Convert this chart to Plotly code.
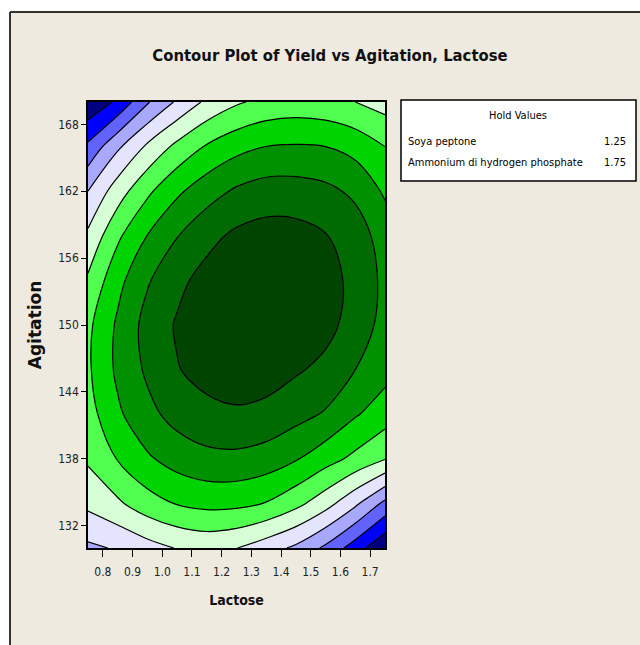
import plotly.graph_objects as go

# Data
lactose = [0.75, 0.85, 0.95, 1.05, 1.15, 1.25, 1.35, 1.45, 1.55, 1.65, 1.75]
agitation = [130, 134, 138, 142, 146, 150, 154, 158, 162, 166, 170]
# yield level estimates (rows = agitation, cols = lactose)
yield_z = [
    [3.80, 4.10, 4.60, 5.05, 5.25, 5.02, 4.45, 3.80, 2.80, 1.50, 0.10],
    [5.25, 5.84, 6.58, 7.06, 7.28, 7.25, 6.96, 6.30, 5.40, 4.20, 2.75],
    [6.15, 7.05, 7.86, 8.42, 8.72, 8.76, 8.55, 8.08, 7.40, 6.75, 6.05],
    [6.60, 7.83, 8.72, 9.36, 9.73, 9.86, 9.72, 9.33, 8.90, 8.10, 7.47],
    [6.85, 8.20, 9.17, 9.95, 10.34, 10.53, 10.45, 10.12, 9.75, 9.00, 8.35],
    [6.78, 8.16, 9.35, 10.10, 10.55, 10.85, 10.85, 10.65, 10.30, 9.60, 8.65],
    [6.15, 7.70, 8.90, 9.75, 10.35, 10.70, 10.80, 10.65, 10.35, 9.75, 8.75],
    [5.20, 6.82, 8.02, 8.96, 9.70, 10.20, 10.40, 10.35, 10.05, 9.50, 8.55],
    [4.00, 5.53, 6.80, 7.82, 8.58, 9.15, 9.45, 9.45, 9.25, 8.80, 7.85],
    [2.21, 3.82, 5.17, 6.26, 7.10, 7.68, 8.01, 8.08, 8.00, 7.65, 7.00],
    [0.20, 1.20, 2.90, 4.15, 5.21, 5.87, 6.27, 6.42, 6.31, 6.00, 5.60],
]
x_ticks = [0.8, 0.9, 1.0, 1.1, 1.2, 1.3, 1.4, 1.5, 1.6, 1.7]
x_ticktext = ["0.8", "0.9", "1.0", "1.1", "1.2", "1.3", "1.4", "1.5", "1.6", "1.7"]
y_ticks = [132, 138, 144, 150, 156, 162, 168]
hold_names = ["Soya peptone", "Ammonium di hydrogen phosphate"]
hold_values = ["1.25", "1.75"]

band_colors = ["#000080", "#0000FF", "#6262FF", "#A8A8FF", "#E4E4FF", "#D6FFD6",
               "#50FF50", "#00D400", "#009100", "#006B00", "#004400"]
colorscale = [[i / 10, c] for i, c in enumerate(band_colors)]

BG = "#EEEAE0"
FONT = "Liberation Sans Narrow, Arial Narrow, DejaVu Sans Condensed, sans-serif"

fig = go.Figure(go.Contour(
    x=lactose, y=agitation, z=yield_z,
    autocontour=False,
    contours=dict(start=1, end=10, size=1, coloring="fill"),
    colorscale=colorscale, showscale=False,
    line=dict(color="black", width=1.2, smoothing=1.0),
    hoverinfo="skip",
))

W, H = 640, 645
L, R, T, B = 88, 385, 102, 548
def px(xp): return (xp - L) / (R - L)   # page pixels -> paper fraction
def py(yp): return (B - yp) / (B - T)

shapes = [
    dict(type="rect", xref="paper", yref="paper", x0=px(-5), x1=px(700), y0=py(-5), y1=py(11),
         fillcolor="white", line=dict(width=0), layer="above"),
    dict(type="rect", xref="paper", yref="paper", x0=px(-5), x1=px(9), y0=py(-5), y1=py(700),
         fillcolor="white", line=dict(width=0), layer="above"),
    dict(type="line", xref="paper", yref="paper", x0=px(10), x1=px(700), y0=py(12), y1=py(12),
         line=dict(color="#333333", width=2)),
    dict(type="line", xref="paper", yref="paper", x0=px(10), x1=px(10), y0=py(12), y1=py(700),
         line=dict(color="#333333", width=2)),
    # hold values box
    dict(type="rect", xref="paper", yref="paper", x0=px(401), x1=px(636), y0=py(181), y1=py(100),
         fillcolor="white", line=dict(color="black", width=1.5)),
]

annotations = [
    dict(text="Hold Values", xref="paper", yref="paper", x=px(518), y=py(116),
         showarrow=False, xanchor="center", yanchor="middle",
         font=dict(family=FONT, size=11, color="black")),
]
for name, val, yy in zip(hold_names, hold_values, [141, 163]):
    annotations.append(dict(text=name, xref="paper", yref="paper", x=px(406), y=py(yy),
                            showarrow=False, xanchor="left", yanchor="middle",
                            font=dict(family=FONT, size=11, color="black")))
    annotations.append(dict(text=val, xref="paper", yref="paper", x=px(628), y=py(yy),
                            showarrow=False, xanchor="right", yanchor="middle",
                            font=dict(family=FONT, size=11, color="black")))

fig.update_layout(
    width=W, height=H,
    margin=dict(l=L, r=W - R, t=T, b=H - B),
    paper_bgcolor=BG, plot_bgcolor=BG,
    title=dict(text="<b>Contour Plot of Yield vs Agitation, Lactose</b>",
               xref="container", yref="container", x=330 / W, y=1 - 55 / H,
               xanchor="center", yanchor="middle",
               font=dict(family=FONT, size=16.5, color="#111111")),
    xaxis=dict(range=[0.75, 1.75], tickvals=x_ticks, ticktext=x_ticktext,
               ticks="outside", ticklen=7, tickcolor="black", tickwidth=1,
               ticklabelstandoff=5,
               showline=True, linecolor="black", linewidth=1.5, mirror=True,
               showgrid=False, zeroline=False,
               tickfont=dict(family=FONT, size=12, color="#222222"),
               title=dict(text="<b>Lactose</b>", standoff=17,
                          font=dict(family=FONT, size=14, color="#111111"))),
    yaxis=dict(range=[130, 170], tickvals=y_ticks,
               ticks="outside", ticklen=5, tickcolor="black", tickwidth=1,
               showline=True, linecolor="black", linewidth=1.5, mirror=True,
               showgrid=False, zeroline=False,
               tickfont=dict(family=FONT, size=12, color="#222222"),
               title=dict(text="<b>Agitation</b>", standoff=12,
                          font=dict(family="DejaVu Sans, sans-serif", size=17, color="#111111"))),
    shapes=shapes,
    annotations=annotations,
)

fig.write_html("out.html",
               config={"displayModeBar": False},
               post_script="document.body.style.margin='0';document.body.style.overflow='hidden';")
